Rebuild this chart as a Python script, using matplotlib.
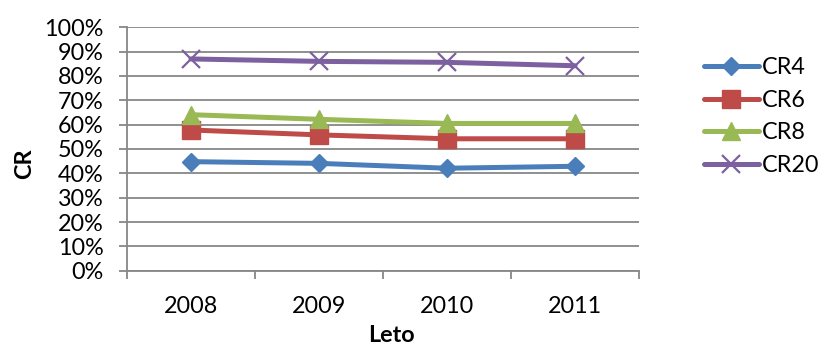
import matplotlib
matplotlib.use("Agg")
import matplotlib.pyplot as plt
from matplotlib.ticker import FixedLocator, PercentFormatter

plt.rcParams['font.family'] = ['Lato', 'DejaVu Sans']

years = ["2008", "2009", "2010", "2011"]
cr4 = [0.448, 0.441, 0.421, 0.429]
cr6 = [0.578, 0.558, 0.542, 0.542]
cr8 = [0.641, 0.622, 0.605, 0.605]
cr20 = [0.870, 0.860, 0.856, 0.842]

series = [
    ("CR4", cr4, "#4A7EBB", dict(marker="D", markersize=9)),
    ("CR6", cr6, "#BE4B48", dict(marker="s", markersize=13)),
    ("CR8", cr8, "#98B954", dict(marker="^", markersize=13)),
    ("CR20", cr20, "#7D60A0", dict(marker="x", markersize=13, markeredgewidth=1.6)),
]

FS = 16.8
W, H = 821, 347
fig = plt.figure(figsize=(W / 100, H / 100), dpi=100)
ax = fig.add_axes([127 / W, 1 - 270.7 / H, (639 - 127) / W, (270.7 - 27.3) / H])

x = list(range(len(years)))
for name, vals, color, mk in series:
    ax.plot(x, vals, color=color, linewidth=3.6, label=name,
            markerfacecolor=color, markeredgecolor=color, solid_capstyle="round", **mk)

grid_c = "#878787"
ax.set_ylim(0, 1)
ax.set_xlim(-0.5, len(years) - 0.5)
ax.yaxis.set_major_locator(FixedLocator([i / 10 for i in range(11)]))
ax.yaxis.set_major_formatter(PercentFormatter(1.0, decimals=0))
ax.grid(axis="y", color=grid_c, linewidth=1.3)
ax.set_axisbelow(True)

ax.set_xticks(x)
ax.set_xticklabels(years)
ax.set_xticks([i - 0.5 for i in range(len(years) + 1)], minor=True)
ax.tick_params(axis="x", which="major", length=0, pad=18, labelsize=FS)
ax.tick_params(axis="x", which="minor", length=6, width=1.3, color=grid_c)
ax.tick_params(axis="y", length=6, width=1.3, color=grid_c, pad=11, labelsize=FS)

for s in ("top", "right"):
    ax.spines[s].set_visible(False)
for s in ("left", "bottom"):
    ax.spines[s].set_color(grid_c)
    ax.spines[s].set_linewidth(1.3)

fig.text(391 / W, 1 - 342 / H, "Leto", ha="center", va="baseline",
         fontsize=FS, fontweight="bold")
fig.text(25 / W, 1 - 148 / H, "CR", ha="right", va="center",
         rotation=90, rotation_mode="anchor", fontsize=FS, fontweight="bold")

fig.legend(loc="upper left", bbox_to_anchor=(704 / W, 1 - 57 / H),
           frameon=False, fontsize=FS, handlelength=2.35, handletextpad=0.13,
           labelspacing=0.5, borderpad=0, borderaxespad=0)

fig.savefig("out.png", dpi=100)
